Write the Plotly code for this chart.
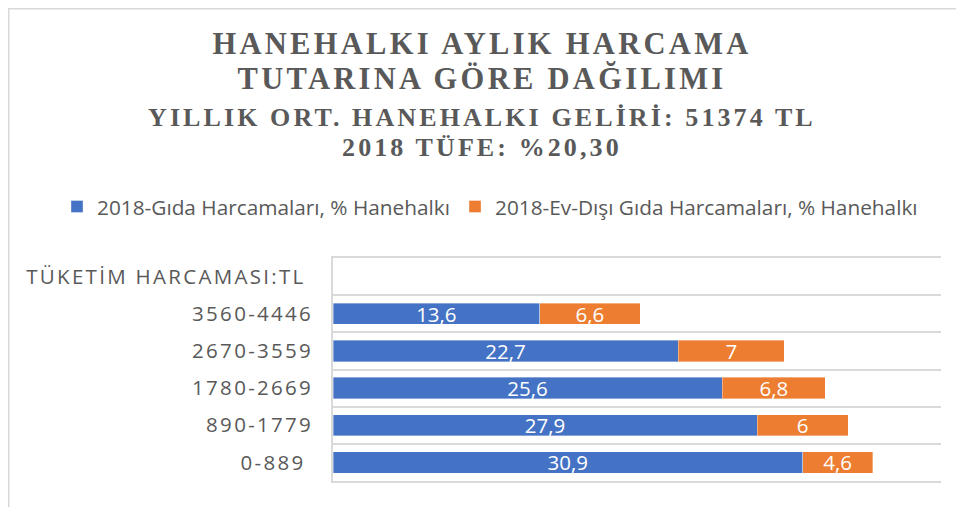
import plotly.graph_objects as go

# ---------------- data ----------------
header = "TÜKETİM HARCAMASI:TL\u00a0"
categories = ["0-889\u00a0", "890-1779", "1780-2669", "2670-3559", "3560-4446"]
gida = [30.9, 27.9, 25.6, 22.7, 13.6]
evdisi = [4.6, 6.0, 6.8, 7.0, 6.6]
series_names = ["2018-Gıda Harcamaları, % Hanehalkı",
                "2018-Ev-Dışı Gıda Harcamaları, % Hanehalkı"]
title_lines = ["HANEHALKI AYLIK HARCAMA", "TUTARINA GÖRE DAĞILIMI"]
subtitle_lines = ["YILLIK ORT. HANEHALKI GELİRİ: 51374 TL", "2018 TÜFE: %20,30"]

# ---------------- style ----------------
OFF = 8                      # page body margin in the browser
WIN_W, WIN_H = 964, 507
W, H = WIN_W - OFF, WIN_H - OFF
ML, MR, MT, MB = 333 - OFF, 23, 258 - OFF, 26
PW, PH = W - ML - MR, H - MT - MB
GRAY = "#595959"
GRID = "#d9d9d9"
BLUE = "#4472C4"
ORANGE = "#ED7D31"
SANS = "Open Sans"
SERIF = "Liberation Serif"


def spaced(t, px, size=None):
    st = f"letter-spacing:{px}px"
    if size:
        st += f";font-size:{size}px"
    return f'<span style="{st}">{t}</span>'


def fmt(v):
    return f"{v:g}".replace(".", ",")


def fx(px):   # window px -> paper x
    return (px - OFF - ML) / PW


def fy(py):   # window px -> paper y
    return (H - MB - (py - OFF)) / PH


ycats = [spaced(c, 2.3) for c in categories]
ycat_all = ycats + [spaced(header, 2.3)]

fig = go.Figure()
for name, vals, col in [(series_names[0], gida, BLUE), (series_names[1], evdisi, ORANGE)]:
    fig.add_trace(go.Bar(
        y=ycats, x=vals, name=name, orientation="h",
        marker=dict(color=col, line=dict(color="rgba(255,255,255,0.6)", width=0.6)),
        text=[fmt(v) for v in vals], textposition="inside",
        insidetextanchor="middle", textangle=0, constraintext="none",
        textfont=dict(color="white", size=20.5, family=SANS),
        hoverinfo="x+name",
    ))

fig.update_layout(
    width=W, height=H,
    margin=dict(l=ML, r=MR, t=MT, b=MB),
    paper_bgcolor="white", plot_bgcolor="white",
    barmode="stack", bargap=0.43,
    font=dict(family=SANS, color=GRAY),
    title=dict(
        text="<br>".join(spaced(t, 3.3, 30.5) for t in title_lines),
        font=dict(family=SERIF, size=27, color=GRAY, weight="bold"),
        x=(WIN_W / 2 - OFF) / W, xref="container", xanchor="center",
        y=1 - 46 / H, yref="container", yanchor="top",
    ),
    legend=dict(
        orientation="h", xref="paper", x=fx(57), xanchor="left",
        yref="paper", y=fy(207), yanchor="middle",
        font=dict(size=20.8, color=GRAY, family=SANS),
        traceorder="normal", bgcolor="rgba(0,0,0,0)",
    ),
    xaxis=dict(range=[0, 40], showgrid=False, showticklabels=False, zeroline=False,
               showline=True, mirror=True, linecolor=GRID, linewidth=1.5, ticks=""),
    yaxis=dict(type="category", categoryorder="array", categoryarray=ycat_all,
               range=[-0.5, len(ycat_all) - 0.5], tickson="boundaries",
               showgrid=True, gridcolor=GRID, gridwidth=1.5,
               showline=True, linecolor=GRID, linewidth=1.5, ticks="",
               ticklabelstandoff=14, tickfont=dict(size=20.5, color=GRAY, family=SANS)),
    annotations=[dict(
        text="<br>".join(spaced(t, 3.1, 26) for t in subtitle_lines),
        xref="paper", yref="paper", x=fx(WIN_W / 2), y=fy(133),
        xanchor="center", yanchor="middle", showarrow=False,
        font=dict(family=SERIF, size=23, color=GRAY, weight="bold"),
    )],
    shapes=[dict(
        type="rect", xref="paper", yref="paper", layer="above",
        x0=fx(OFF + 0.75), x1=fx(WIN_W + 10),
        y0=fy(WIN_H + 10), y1=fy(OFF + 0.75),
        line=dict(color=GRID, width=1.5), fillcolor="rgba(0,0,0,0)",
    )],
)

fig.write_html("out.html")
